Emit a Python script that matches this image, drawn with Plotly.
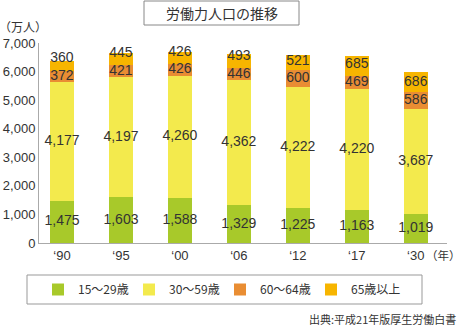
import plotly.graph_objects as go
import numpy as np

years = ["‘90", "‘95", "‘00", "‘06", "‘12", "‘17", "‘30"]
series_names = ["15～29歳", "30～59歳", "60～64歳", "65歳以上"]
age_15_29 = [1475, 1603, 1588, 1329, 1225, 1163, 1019]
age_30_59 = [4177, 4197, 4260, 4362, 4222, 4220, 3687]
age_60_64 = [372, 421, 426, 446, 600, 469, 586]
age_65_up = [360, 445, 426, 493, 521, 685, 686]
colors = ["#a8c92a", "#f3ea4d", "#e98d33", "#f7b500"]
y_ticks = [0, 1000, 2000, 3000, 4000, 5000, 6000, 7000]

FONT = "Liberation Sans, Arial, Noto Sans CJK JP, sans-serif"
JP = "Noto Sans CJK JP, sans-serif"
series = [age_15_29, age_30_59, age_60_64, age_65_up]
x_idx = list(range(len(years)))

fig = go.Figure()
for name, vals, col in zip(series_names, series, colors):
    fig.add_trace(go.Bar(x=x_idx, y=vals, name=name, marker=dict(color=col, line=dict(width=0)),
                         width=0.41))

# value labels at segment centres (top label nudged up so the two small segments stay readable)
MIN_SEP = 620  # minimum label separation in data units
base = np.zeros(len(years))
prev_centers = None
for i, vals in enumerate(series):
    v = np.array(vals, dtype=float)
    centers = base + v / 2
    if i == 3 and prev_centers is not None:
        centers = np.maximum(centers, prev_centers + MIN_SEP)
    fig.add_trace(go.Scatter(x=x_idx, y=centers, mode="text", text=[f"{int(a):,}" for a in v],
                             textfont=dict(family=FONT, size=14, color="#333333"),
                             showlegend=False, hoverinfo="skip"))
    prev_centers = centers
    base = base + v

PW, PH = 408, 200
def px(x):
    return (x - 39) / PW
def py(y):
    return (243 - y) / PH

fig.update_layout(
    barmode="stack",
    width=459, height=326,
    margin=dict(l=39, r=12, t=43, b=83, autoexpand=False),
    paper_bgcolor="white", plot_bgcolor="white",
    font=dict(family=FONT, size=13, color="#333333"),
    showlegend=True,
    legend=dict(orientation="h", x=px(38), xanchor="left", y=py(289.5), yanchor="middle",
                font=dict(family=JP, size=12, color="#333333"),
                entrywidth=46, entrywidthmode="pixels", itemwidth=30,
                bgcolor="rgba(0,0,0,0)", traceorder="normal"),
    xaxis=dict(range=[-0.39, 6.53], tickmode="array", tickvals=x_idx, ticktext=years,
               showgrid=False, zeroline=False, showline=True, linecolor="#aaaaaa", linewidth=1,
               ticks="", tickfont=dict(size=13, color="#333333")),
    yaxis=dict(range=[0, 7000], tickmode="array", tickvals=y_ticks,
               ticktext=[f"{t:,}" for t in y_ticks], showgrid=False, zeroline=False,
               showline=True, linecolor="#aaaaaa", linewidth=1, ticks="",
               tickfont=dict(size=13, color="#333333")),
)

# title box
fig.add_shape(type="rect", xref="paper", yref="paper", x0=px(144), x1=px(299),
              y0=py(25), y1=py(1), line=dict(color="#888888", width=1), fillcolor="white")
fig.add_annotation(text="労働力人口の推移", xref="paper", yref="paper",
                   x=px(222), y=py(13), xanchor="center", yanchor="middle", showarrow=False,
                   font=dict(family=JP, size=14, color="#333333"))
# unit labels
fig.add_annotation(text="（万人）", xref="paper", yref="paper", x=px(-3),
                   y=py(26), xanchor="left", yanchor="middle", showarrow=False,
                   font=dict(family=JP, size=12, color="#333333"))
fig.add_annotation(text="（年）", xref="paper", yref="paper", x=px(424),
                   y=py(255), xanchor="left", yanchor="middle", showarrow=False,
                   font=dict(family=JP, size=11.5, color="#333333"))
# legend box
fig.add_shape(type="rect", xref="paper", yref="paper", x0=px(27), x1=px(422),
              y0=py(304), y1=py(275), line=dict(color="#999999", width=1))
# source note
fig.add_annotation(text="出典:平成21年版厚生労働白書", xref="paper", yref="paper",
                   x=px(458), y=py(319), xanchor="right", yanchor="middle", showarrow=False,
                   font=dict(family=JP, size=11, color="#333333"))

fig.write_html("out.html")
